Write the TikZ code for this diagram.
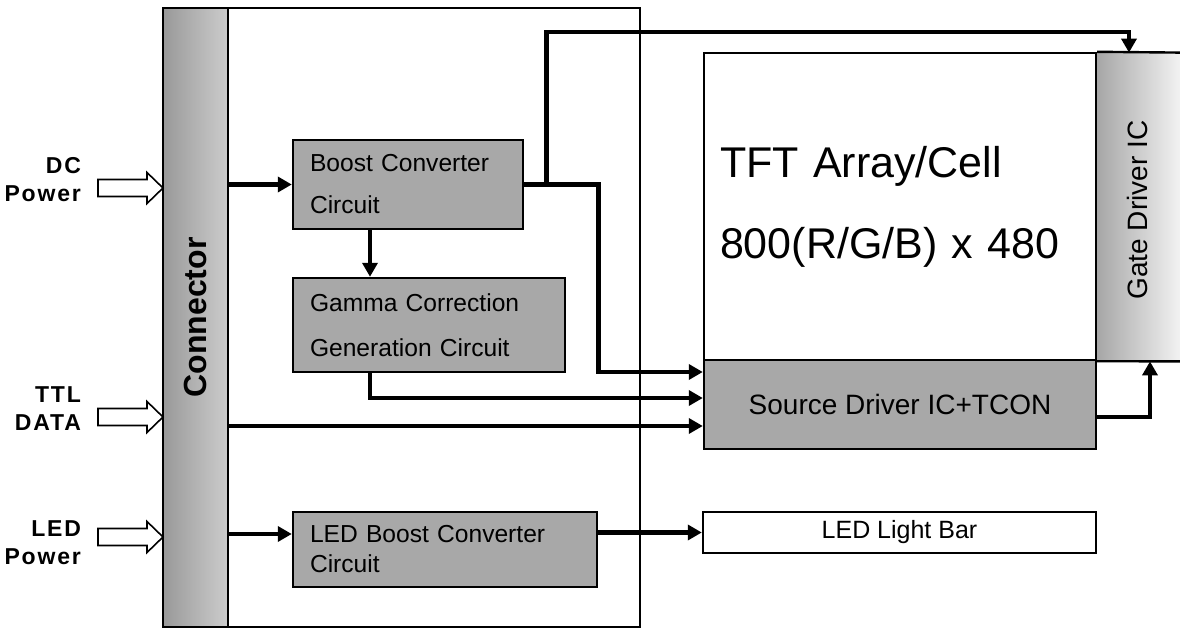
\documentclass[tikz,border=0pt]{standalone}
\usepackage{fontspec}
\setmainfont{Liberation Sans}
\newfontfamily\lblfont[LetterSpace=8]{Liberation Sans}
\usetikzlibrary{arrows.meta, positioning, calc}

\tikzset{
  blk/.style={draw, line width=1.2pt, fill=gray!68, inner sep=0pt},
  sig/.style={line width=2.3pt, -{Triangle[length=7pt,width=7.5pt]}},
  fat/.style={draw, line width=0.8pt, fill=white},
  lbl/.style={anchor=east, align=right, font=\fontsize{11.5}{14}\lblfont\bfseries},
}
\newcommand{\fatin}[1]{\draw[fat] (#1) -- ++(-16,-15.5) -- ++(0,7) -- ++(-49,0) -- ++(0,17) -- ++(49,0) -- ++(0,7) -- cycle;}

\begin{document}
\begin{tikzpicture}[x=0.5pt, y=-0.5pt]
    \useasboundingbox (0,0) rectangle (1180,631);

    % 主板
    \draw[line width=1.2pt] (163,8) rectangle (640,627);
    \node[draw, line width=1.2pt, left color=gray!80, right color=gray!40, minimum width=32.5pt, minimum height=309.5pt, inner sep=0pt] (conn) at (195.5,317.5) {};
    \node[rotate=90, font=\fontsize{16}{16}\selectfont\bfseries] (connlbl) at (conn) {Connector};

    % 输入
    \node[lbl] (dclbl) at (88,180) {DC\\Power};
    \node[lbl] (ttllbl) at (88,409) {TTL\\DATA};
    \node[lbl] (ledlbl) at (88,543) {LED\\Power};
    \coordinate (dcin) at (163,188);
    \coordinate (ttlin) at (163,417);
    \coordinate (ledin) at (163,537);
    \foreach \c in {dcin, ttlin, ledin} {
        \fatin{\c}
    }

    % 电路模块
    \node[blk, minimum width=115pt, minimum height=44.5pt, text width=98pt, align=left, font=\fontsize{12.3}{21}\selectfont] (boost) at (408,184.5) {Boost Converter\\Circuit};
    \node[blk, minimum width=136pt, minimum height=47pt, text width=119pt, align=left, font=\fontsize{12.3}{22.5}\selectfont] (gamma) at (429,325) {Gamma Correction\\Generation Circuit};
    \node[blk, minimum width=152pt, minimum height=37.5pt, text width=135pt, align=left, font=\fontsize{12.3}{15}\selectfont] (ledb) at (445,549.5) {LED Boost Converter\\Circuit};

    % 面板
    \node[left color=gray!70, right color=gray!10, minimum width=42pt, minimum height=154pt, inner sep=0pt] (gate) at (1138,207) {};
    \node[rotate=90, font=\fontsize{14}{14}\selectfont] (gatelbl) at (1137,210) {Gate Driver IC};
    \node[draw, line width=1.2pt, fill=white, minimum width=196pt, minimum height=153.5pt, text width=180pt, align=left, font=\fontsize{21.5}{40.5}\selectfont] (tft) at (900,206.5) {TFT Array/Cell\\800(R/G/B) x 480};
    \draw[line width=1.2pt] (tft.north east) -- (gate.north east);
    \draw[line width=1.2pt] (tft.south east) -- (gate.south east);
    \node[blk, minimum width=196pt, minimum height=44.5pt, font=\fontsize{14}{14}\selectfont] (src) at (900,404.5) {Source Driver IC+TCON};
    \node[draw, line width=1.2pt, minimum width=196.5pt, minimum height=20.5pt, font=\fontsize{12.5}{12.5}\selectfont] (bar) at (899.5,532.5) {LED Light Bar};

    % 信号线
    \draw[sig] (conn.east |- boost.west) -- (boost.west);
    \draw[sig] ([xshift=-19pt]boost.south) -- ([xshift=-29.5pt]gamma.north);
    \draw[sig] (boost.east) -- ++(74,0) |- ([yshift=16.25pt]src.west);
    \draw[sig] ([xshift=11pt]boost.east) -- ++(0,-152.5) -| ([xshift=-4.5pt]gate.north);
    \draw[sig] ([xshift=-29.5pt]gamma.south) |- ([yshift=3.25pt]src.west);
    \coordinate (ttlend) at ([yshift=-10.75pt]src.west);
    \draw[sig] (conn.east |- ttlend) -- (ttlend);
    \coordinate (ledend) at ([yshift=7.75pt]ledb.west);
    \draw[sig] (conn.east |- ledend) -- (ledend);
    \draw[sig] (ledb.east |- bar.west) -- (bar.west);
    \draw[sig] ([yshift=-6.25pt]src.east) -| ([xshift=6pt]gate.south);
\end{tikzpicture}
\end{document}
